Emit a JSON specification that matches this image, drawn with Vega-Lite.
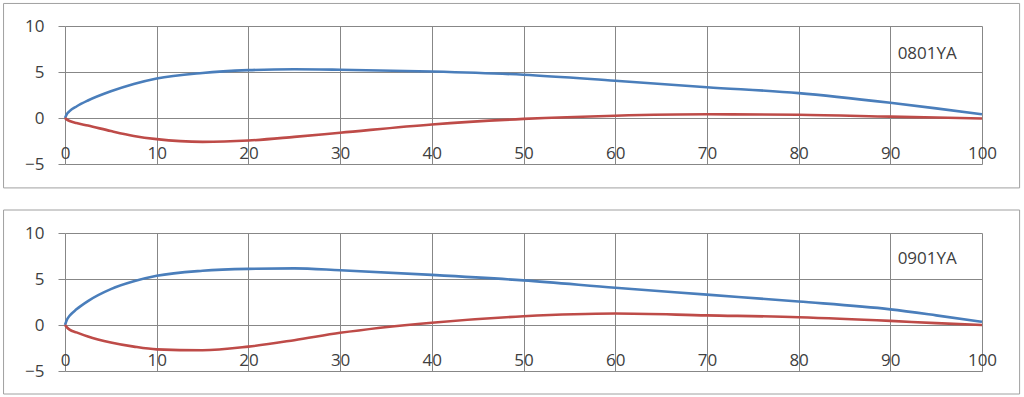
{
  "$schema": "https://vega.github.io/schema/vega-lite/v6.json",
  "background": "white",
  "padding": {"left": 3, "top": 2, "right": 2, "bottom": 2},
  "config": {"view": {"stroke": null}, "font": "Open Sans"},
  "datasets": {
    "airfoils": [
      {"airfoil": "0801YA", "surface": "upper", "x": 0, "y": 0},
      {"airfoil": "0801YA", "surface": "upper", "x": 0.25, "y": 0.5},
      {"airfoil": "0801YA", "surface": "upper", "x": 0.5, "y": 0.75},
      {"airfoil": "0801YA", "surface": "upper", "x": 1.25, "y": 1.25},
      {"airfoil": "0801YA", "surface": "upper", "x": 2.5, "y": 1.9},
      {"airfoil": "0801YA", "surface": "upper", "x": 5, "y": 2.9},
      {"airfoil": "0801YA", "surface": "upper", "x": 7.5, "y": 3.7},
      {"airfoil": "0801YA", "surface": "upper", "x": 10, "y": 4.3},
      {"airfoil": "0801YA", "surface": "upper", "x": 15, "y": 4.9},
      {"airfoil": "0801YA", "surface": "upper", "x": 20, "y": 5.2},
      {"airfoil": "0801YA", "surface": "upper", "x": 25, "y": 5.3},
      {"airfoil": "0801YA", "surface": "upper", "x": 30, "y": 5.25},
      {"airfoil": "0801YA", "surface": "upper", "x": 40, "y": 5.05},
      {"airfoil": "0801YA", "surface": "upper", "x": 50, "y": 4.7},
      {"airfoil": "0801YA", "surface": "upper", "x": 60, "y": 4.05},
      {"airfoil": "0801YA", "surface": "upper", "x": 70, "y": 3.35},
      {"airfoil": "0801YA", "surface": "upper", "x": 80, "y": 2.7},
      {"airfoil": "0801YA", "surface": "upper", "x": 90, "y": 1.65},
      {"airfoil": "0801YA", "surface": "upper", "x": 95, "y": 1.05},
      {"airfoil": "0801YA", "surface": "upper", "x": 100, "y": 0.4},
      {"airfoil": "0801YA", "surface": "lower", "x": 0, "y": 0},
      {"airfoil": "0801YA", "surface": "lower", "x": 0.25, "y": -0.2},
      {"airfoil": "0801YA", "surface": "lower", "x": 0.5, "y": -0.32},
      {"airfoil": "0801YA", "surface": "lower", "x": 1.25, "y": -0.55},
      {"airfoil": "0801YA", "surface": "lower", "x": 2.5, "y": -0.82},
      {"airfoil": "0801YA", "surface": "lower", "x": 5, "y": -1.42},
      {"airfoil": "0801YA", "surface": "lower", "x": 7.5, "y": -1.95},
      {"airfoil": "0801YA", "surface": "lower", "x": 10, "y": -2.3},
      {"airfoil": "0801YA", "surface": "lower", "x": 15, "y": -2.6},
      {"airfoil": "0801YA", "surface": "lower", "x": 20, "y": -2.45},
      {"airfoil": "0801YA", "surface": "lower", "x": 25, "y": -2.05},
      {"airfoil": "0801YA", "surface": "lower", "x": 30, "y": -1.6},
      {"airfoil": "0801YA", "surface": "lower", "x": 40, "y": -0.7},
      {"airfoil": "0801YA", "surface": "lower", "x": 50, "y": -0.1},
      {"airfoil": "0801YA", "surface": "lower", "x": 60, "y": 0.25},
      {"airfoil": "0801YA", "surface": "lower", "x": 70, "y": 0.4},
      {"airfoil": "0801YA", "surface": "lower", "x": 80, "y": 0.35},
      {"airfoil": "0801YA", "surface": "lower", "x": 90, "y": 0.15},
      {"airfoil": "0801YA", "surface": "lower", "x": 95, "y": 0.05},
      {"airfoil": "0801YA", "surface": "lower", "x": 100, "y": -0.05},
      {"airfoil": "0901YA", "surface": "upper", "x": 0, "y": 0},
      {"airfoil": "0901YA", "surface": "upper", "x": 0.25, "y": 0.65},
      {"airfoil": "0901YA", "surface": "upper", "x": 0.5, "y": 1.0},
      {"airfoil": "0901YA", "surface": "upper", "x": 1.25, "y": 1.7},
      {"airfoil": "0901YA", "surface": "upper", "x": 2.5, "y": 2.6},
      {"airfoil": "0901YA", "surface": "upper", "x": 5, "y": 3.9},
      {"airfoil": "0901YA", "surface": "upper", "x": 7.5, "y": 4.75},
      {"airfoil": "0901YA", "surface": "upper", "x": 10, "y": 5.35},
      {"airfoil": "0901YA", "surface": "upper", "x": 15, "y": 5.9},
      {"airfoil": "0901YA", "surface": "upper", "x": 20, "y": 6.1},
      {"airfoil": "0901YA", "surface": "upper", "x": 25, "y": 6.15},
      {"airfoil": "0901YA", "surface": "upper", "x": 30, "y": 5.95},
      {"airfoil": "0901YA", "surface": "upper", "x": 40, "y": 5.45},
      {"airfoil": "0901YA", "surface": "upper", "x": 50, "y": 4.85},
      {"airfoil": "0901YA", "surface": "upper", "x": 60, "y": 4.05},
      {"airfoil": "0901YA", "surface": "upper", "x": 70, "y": 3.3},
      {"airfoil": "0901YA", "surface": "upper", "x": 80, "y": 2.55},
      {"airfoil": "0901YA", "surface": "upper", "x": 90, "y": 1.7},
      {"airfoil": "0901YA", "surface": "upper", "x": 95, "y": 1.05},
      {"airfoil": "0901YA", "surface": "upper", "x": 100, "y": 0.35},
      {"airfoil": "0901YA", "surface": "lower", "x": 0, "y": 0},
      {"airfoil": "0901YA", "surface": "lower", "x": 0.25, "y": -0.3},
      {"airfoil": "0901YA", "surface": "lower", "x": 0.5, "y": -0.5},
      {"airfoil": "0901YA", "surface": "lower", "x": 1.25, "y": -0.8},
      {"airfoil": "0901YA", "surface": "lower", "x": 2.5, "y": -1.25},
      {"airfoil": "0901YA", "surface": "lower", "x": 5, "y": -1.9},
      {"airfoil": "0901YA", "surface": "lower", "x": 7.5, "y": -2.35},
      {"airfoil": "0901YA", "surface": "lower", "x": 10, "y": -2.65},
      {"airfoil": "0901YA", "surface": "lower", "x": 15, "y": -2.75},
      {"airfoil": "0901YA", "surface": "lower", "x": 20, "y": -2.35},
      {"airfoil": "0901YA", "surface": "lower", "x": 25, "y": -1.65},
      {"airfoil": "0901YA", "surface": "lower", "x": 30, "y": -0.85},
      {"airfoil": "0901YA", "surface": "lower", "x": 40, "y": 0.25},
      {"airfoil": "0901YA", "surface": "lower", "x": 50, "y": 0.95},
      {"airfoil": "0901YA", "surface": "lower", "x": 60, "y": 1.25},
      {"airfoil": "0901YA", "surface": "lower", "x": 70, "y": 1.05},
      {"airfoil": "0901YA", "surface": "lower", "x": 80, "y": 0.85},
      {"airfoil": "0901YA", "surface": "lower", "x": 90, "y": 0.45},
      {"airfoil": "0901YA", "surface": "lower", "x": 95, "y": 0.2},
      {"airfoil": "0901YA", "surface": "lower", "x": 100, "y": 0}
    ]
  },
  "bounds": "flush",
  "spacing": 69,
  "vconcat": [
    {
      "width": 917,
      "height": 138,
      "layer": [
        {
          "data": {"name": "airfoils"},
          "transform": [{"filter": "datum.airfoil === '0801YA'"}],
          "mark": {"type": "line", "interpolate": "monotone", "strokeWidth": 2.6},
          "encoding": {
            "x": {"field": "x", "type": "quantitative", "scale": {"domain": [0, 100], "nice": false, "zero": false},
              "axis": {"values": [0, 10, 20, 30, 40, 50, 60, 70, 80, 90, 100], "title": null, "grid": true, "gridColor": "#878787", "gridOpacity": 1, "domain": false, "ticks": false, "labelPadding": -11, "labelBaseline": "middle", "labelFlush": false, "labelFontSize": 17, "labelColor": "#404040", "labelFont": "Open Sans"}},
            "y": {"field": "y", "type": "quantitative", "scale": {"domain": [-5, 10], "nice": false, "zero": false},
              "axis": {"values": [-5, 0, 5, 10], "title": null, "grid": true, "gridColor": "#878787", "gridOpacity": 1, "domain": false, "ticks": true, "tickSize": 7, "tickColor": "#878787", "labelPadding": 14, "labelFontSize": 17, "labelColor": "#404040", "labelFont": "Open Sans"}},
            "color": {"field": "surface", "type": "nominal", "scale": {"domain": ["upper", "lower"], "range": ["#4A7EBB", "#BE4B48"]}, "legend": null}
          }
        },
        {
          "data": {"values": [{"name": "0801YA"}]},
          "mark": {"type": "text", "align": "left", "baseline": "middle", "fontSize": 17, "color": "#404040", "font": "Open Sans"},
          "encoding": {
            "x": {"datum": 90.8, "type": "quantitative"},
            "y": {"datum": 7.0, "type": "quantitative"},
            "text": {"field": "name"}
          }
        },
        {
          "data": {"values": [{}]},
          "mark": {"type": "rect", "fill": null, "stroke": "#a0a0a0", "strokeWidth": 1},
          "encoding": {
            "x": {"datum": -6.7, "type": "quantitative"},
            "x2": {"datum": 104.1},
            "y": {"datum": 12.45, "type": "quantitative"},
            "y2": {"datum": -7.6}
          }
        }
      ]
    },
    {
      "width": 917,
      "height": 138,
      "layer": [
        {
          "data": {"name": "airfoils"},
          "transform": [{"filter": "datum.airfoil === '0901YA'"}],
          "mark": {"type": "line", "interpolate": "monotone", "strokeWidth": 2.6},
          "encoding": {
            "x": {"field": "x", "type": "quantitative", "scale": {"domain": [0, 100], "nice": false, "zero": false},
              "axis": {"values": [0, 10, 20, 30, 40, 50, 60, 70, 80, 90, 100], "title": null, "grid": true, "gridColor": "#878787", "gridOpacity": 1, "domain": false, "ticks": false, "labelPadding": -11, "labelBaseline": "middle", "labelFlush": false, "labelFontSize": 17, "labelColor": "#404040", "labelFont": "Open Sans"}},
            "y": {"field": "y", "type": "quantitative", "scale": {"domain": [-5, 10], "nice": false, "zero": false},
              "axis": {"values": [-5, 0, 5, 10], "title": null, "grid": true, "gridColor": "#878787", "gridOpacity": 1, "domain": false, "ticks": true, "tickSize": 7, "tickColor": "#878787", "labelPadding": 14, "labelFontSize": 17, "labelColor": "#404040", "labelFont": "Open Sans"}},
            "color": {"field": "surface", "type": "nominal", "scale": {"domain": ["upper", "lower"], "range": ["#4A7EBB", "#BE4B48"]}, "legend": null}
          }
        },
        {
          "data": {"values": [{"name": "0901YA"}]},
          "mark": {"type": "text", "align": "left", "baseline": "middle", "fontSize": 17, "color": "#404040", "font": "Open Sans"},
          "encoding": {
            "x": {"datum": 90.8, "type": "quantitative"},
            "y": {"datum": 7.15, "type": "quantitative"},
            "text": {"field": "name"}
          }
        },
        {
          "data": {"values": [{}]},
          "mark": {"type": "rect", "fill": null, "stroke": "#a0a0a0", "strokeWidth": 1},
          "encoding": {
            "x": {"datum": -6.7, "type": "quantitative"},
            "x2": {"datum": 104.1},
            "y": {"datum": 12.5, "type": "quantitative"},
            "y2": {"datum": -7.5}
          }
        }
      ]
    }
  ]
}
